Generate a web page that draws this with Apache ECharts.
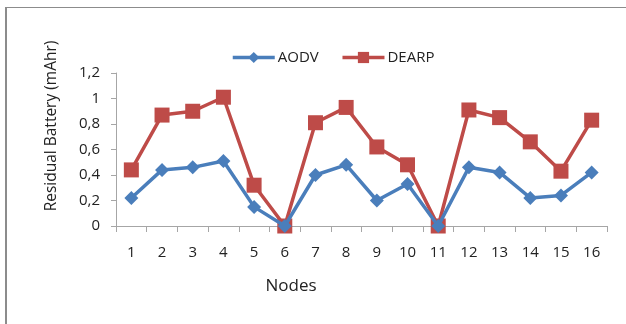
<!DOCTYPE html>
<html>
<head>
<meta charset="utf-8">
<script src="https://cdn.jsdelivr.net/npm/echarts@6/dist/echarts.min.js"></script>
<style>
html, body { margin: 0; padding: 0; background: #fff; }
#main { width: 626px; height: 324px; }
</style>
</head>
<body>
<div id="main"></div>
<script>
var nodes = ['1', '2', '3', '4', '5', '6', '7', '8', '9', '10', '11', '12', '13', '14', '15', '16'];
var aodv = [0.22, 0.44, 0.46, 0.51, 0.15, 0, 0.40, 0.48, 0.20, 0.33, 0, 0.46, 0.42, 0.22, 0.24, 0.42];
var dearp = [0.44, 0.87, 0.90, 1.01, 0.32, 0, 0.81, 0.93, 0.62, 0.48, 0, 0.91, 0.85, 0.66, 0.43, 0.83];

var chart = echarts.init(document.getElementById('main'));

var font = 'Open Sans';
var axisGray = '#a6a6a6';

option = {
    animation: false,
    backgroundColor: '#fff',
    textStyle: { fontFamily: font },
    legend: {
        left: 226,
        top: 45,
        itemWidth: 42,
        itemHeight: 14,
        itemGap: 22,
        lineStyle: { width: 3.5 },
        textStyle: { fontSize: 15, color: '#222', fontFamily: font, padding: [0, 0, 0, -2] },
        data: ['AODV', 'DEARP']
    },
    grid: {
        left: 116,
        right: 19,
        top: 73,
        bottom: 98
    },
    graphic: [
        {
            type: 'line',
            shape: { x1: 6, y1: 7.5, x2: 626, y2: 7.5 },
            style: { stroke: '#8c8c8c', lineWidth: 1 }
        },
        {
            type: 'line',
            shape: { x1: 6, y1: 7, x2: 6, y2: 324 },
            style: { stroke: '#8c8c8c', lineWidth: 2 }
        },
        {
            type: 'text',
            x: 52,
            y: 126,
            rotation: Math.PI / 2,
            style: {
                text: 'Residual Battery (mAhr)',
                fontSize: 15.5,
                fontFamily: font,
                fill: '#222',
                align: 'center',
                verticalAlign: 'middle'
            }
        },
        {
            type: 'text',
            x: 291,
            y: 286,
            style: {
                text: 'Nodes',
                fontSize: 17,
                fontFamily: font,
                fill: '#222',
                align: 'center',
                verticalAlign: 'middle'
            }
        }
    ],
    xAxis: {
        type: 'category',
        boundaryGap: true,
        data: nodes,
        axisLine: { lineStyle: { color: axisGray, width: 1 } },
        axisTick: { show: true, length: 6, lineStyle: { color: axisGray } },
        axisLabel: { fontSize: 15, color: '#222', margin: 19, fontFamily: font },
        splitLine: { show: false }
    },
    yAxis: {
        type: 'value',
        min: 0,
        max: 1.2,
        interval: 0.2,
        axisLine: { show: true, lineStyle: { color: axisGray, width: 1 } },
        axisTick: { show: true, length: 5, lineStyle: { color: axisGray } },
        axisLabel: {
            fontSize: 15,
            color: '#222',
            margin: 16,
            fontFamily: font,
            formatter: function (v) {
                return (Math.round(v * 10) / 10).toString().replace('.', ',');
            }
        },
        splitLine: { show: false }
    },
    series: [
        {
            name: 'AODV',
            type: 'line',
            data: aodv,
            symbol: 'diamond',
            symbolSize: 14,
            color: '#4a7ebb',
            lineStyle: { width: 3.5, color: '#4a7ebb' },
            itemStyle: { color: '#4a7ebb' },
            z: 3
        },
        {
            name: 'DEARP',
            type: 'line',
            data: dearp,
            symbol: 'rect',
            symbolSize: 15,
            color: '#be4b48',
            lineStyle: { width: 3.5, color: '#be4b48' },
            itemStyle: { color: '#be4b48' },
            z: 2
        }
    ]
};
chart.setOption(option);
</script>
</body>
</html>
